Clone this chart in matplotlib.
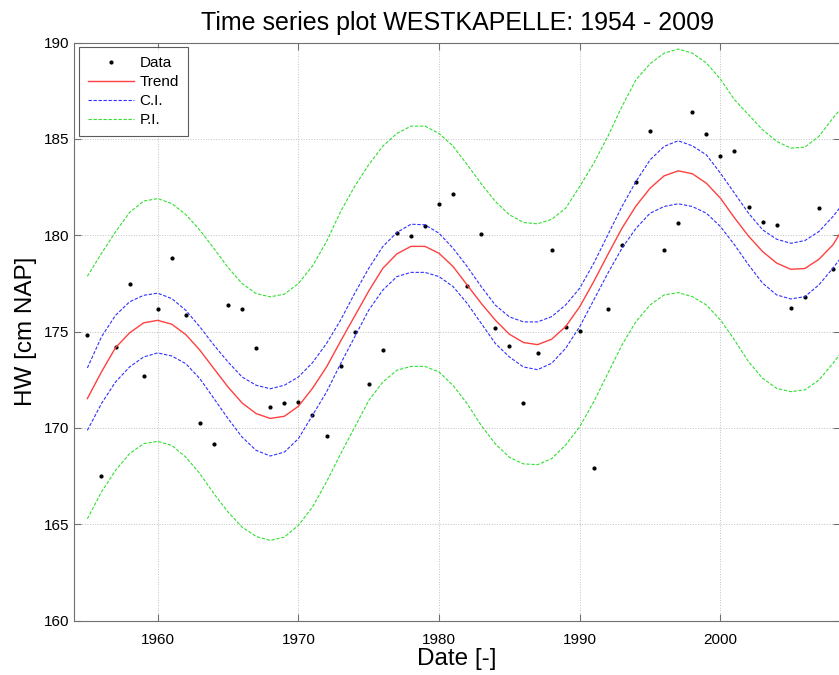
import numpy as np
import matplotlib
matplotlib.use("Agg")
import matplotlib.pyplot as plt

plt.rcParams['font.family'] = ['Liberation Sans', 'DejaVu Sans']

data_years = list(range(1955, 2009))
data_hw = [174.8, 167.5, 174.18, 177.45, 172.7, 176.15, 178.84, 175.84, 170.26, 169.16,
           176.4, 176.18, 174.16, 171.07, 171.3, 171.35, 170.65, 169.56, 173.2, 174.96,
           172.28, 174.02, 180.1, 179.95, 180.48, 181.64, 182.15, 177.38, 180.05, 175.16,
           174.26, 171.28, 173.88, 179.25, 175.25, 175.04, 167.9, 176.15, 179.51, 182.75,
           185.42, 179.24, 180.62, 186.38, 185.25, 184.11, 184.38, 181.45, 180.66, 180.55,
           176.22, 176.79, 181.39, 178.26]

# fitted curves, one value per year
fit_years = list(range(1955, 2010))
trend = [171.52, 172.9, 174.16, 174.93, 175.45, 175.58, 175.38, 174.84, 174.03, 173.07,
         172.12, 171.29, 170.74, 170.49, 170.6, 171.12, 172.05, 173.16, 174.5, 175.8,
         177.1, 178.28, 179.03, 179.42, 179.42, 179.06, 178.37, 177.41, 176.46, 175.59,
         174.86, 174.43, 174.32, 174.6, 175.26, 176.29, 177.6, 179.0, 180.36, 181.52,
         182.44, 183.08, 183.34, 183.19, 182.7, 181.92, 180.9, 179.95, 179.15, 178.55,
         178.23, 178.27, 178.75, 179.5, 180.7]
ci_upper = [173.11, 174.72, 175.84, 176.54, 176.88, 176.99, 176.71, 176.1, 175.24, 174.29,
            173.42, 172.64, 172.21, 172.03, 172.21, 172.64, 173.38, 174.38, 175.59, 176.98,
            178.28, 179.41, 180.14, 180.57, 180.54, 180.1, 179.32, 178.37, 177.33, 176.37,
            175.76, 175.5, 175.5, 175.77, 176.38, 177.25, 178.55, 180.02, 181.49, 182.79,
            183.91, 184.61, 184.9, 184.64, 184.17, 183.22, 182.18, 181.14, 180.28, 179.79,
            179.58, 179.72, 180.19, 180.97, 181.9]
ci_lower = [169.87, 171.26, 172.38, 173.16, 173.68, 173.89, 173.73, 173.33, 172.55, 171.52,
            170.48, 169.52, 168.83, 168.54, 168.74, 169.44, 170.65, 171.86, 173.33, 174.72,
            176.11, 177.15, 177.85, 178.07, 178.07, 177.85, 177.33, 176.46, 175.42, 174.38,
            173.68, 173.16, 173.02, 173.35, 174.13, 175.26, 176.64, 178.03, 179.32, 180.36,
            181.14, 181.49, 181.63, 181.49, 181.14, 180.45, 179.5, 178.46, 177.51, 176.9,
            176.69, 176.81, 177.42, 178.29, 179.25]
pi_upper = [177.87, 179.05, 180.17, 181.18, 181.77, 181.9, 181.64, 181.07, 180.26, 179.31,
            178.32, 177.49, 176.97, 176.8, 176.94, 177.49, 178.4, 179.67, 181.23, 182.53,
            183.66, 184.62, 185.28, 185.66, 185.66, 185.28, 184.62, 183.66, 182.67, 181.75,
            181.06, 180.66, 180.59, 180.82, 181.4, 182.53, 183.74, 185.13, 186.68, 188.07,
            188.9, 189.45, 189.66, 189.45, 188.94, 188.1, 187.03, 186.25, 185.47, 184.87,
            184.52, 184.57, 185.13, 186.08, 186.95]
pi_lower = [165.28, 166.67, 167.79, 168.66, 169.18, 169.3, 169.09, 168.48, 167.62, 166.58,
            165.63, 164.85, 164.36, 164.16, 164.33, 164.94, 165.89, 167.2, 168.65, 170.03,
            171.42, 172.38, 172.99, 173.19, 173.19, 172.9, 172.2, 171.25, 170.12, 169.17,
            168.47, 168.13, 168.09, 168.4, 169.11, 170.06, 171.36, 172.83, 174.3, 175.52,
            176.38, 176.9, 177.02, 176.81, 176.38, 175.6, 174.56, 173.43, 172.57, 172.05,
            171.88, 171.97, 172.48, 173.35, 174.3]

x_ticks = [1960, 1970, 1980, 1990, 2000]
y_ticks = [160, 165, 170, 175, 180, 185, 190]

fig = plt.figure(figsize=(8.39, 6.75), dpi=100)
ax = fig.add_axes([0.0882, 0.0807, 0.9130, 0.8563])

ax.plot(data_years, data_hw, '.', color='black', markersize=4, label='Data')
ax.plot(fit_years, trend, '-', color='#ff4040', linewidth=1.0, label='Trend')
ax.plot(fit_years, ci_upper, '--', color='#3030ff', linewidth=0.8, dashes=(3, 1.5), label='C.I.')
ax.plot(fit_years, ci_lower, '--', color='#3030ff', linewidth=0.8, dashes=(3, 1.5))
ax.plot(fit_years, pi_upper, '--', color='#30e030', linewidth=0.8, dashes=(3, 1.5), label='P.I.')
ax.plot(fit_years, pi_lower, '--', color='#30e030', linewidth=0.8, dashes=(3, 1.5))

ax.set_xlim(1954.05, 2008.5)
ax.set_ylim(160, 190)
ax.set_xticks(x_ticks)
ax.set_yticks(y_ticks)
ax.grid(True, linestyle=':', color='#c0c0c0', linewidth=0.7)
ax.tick_params(direction='in', top=True, right=True, labelsize=11, color='#707070', length=5)
ax.tick_params(axis='x', pad=9)
for side in ['left', 'bottom', 'top']:
    ax.spines[side].set_color('#707070')
ax.spines['right'].set_visible(False)

ax.set_title('Time series plot WESTKAPELLE: 1954 - 2009', fontsize=18, pad=9)
ax.set_xlabel('Date [-]', fontsize=17.5, labelpad=1)
ax.set_ylabel('HW [cm NAP]', fontsize=17.5, labelpad=5)

leg = ax.legend(loc='upper left', fontsize=11, frameon=True, fancybox=False,
                borderaxespad=0.3, handlelength=3.0, labelspacing=0.32, borderpad=0.6,
                handletextpad=0.4, markerscale=1.0)
leg.get_frame().set_edgecolor('#333333')
leg.get_frame().set_linewidth(0.8)

fig.savefig('out.png', dpi=100)
